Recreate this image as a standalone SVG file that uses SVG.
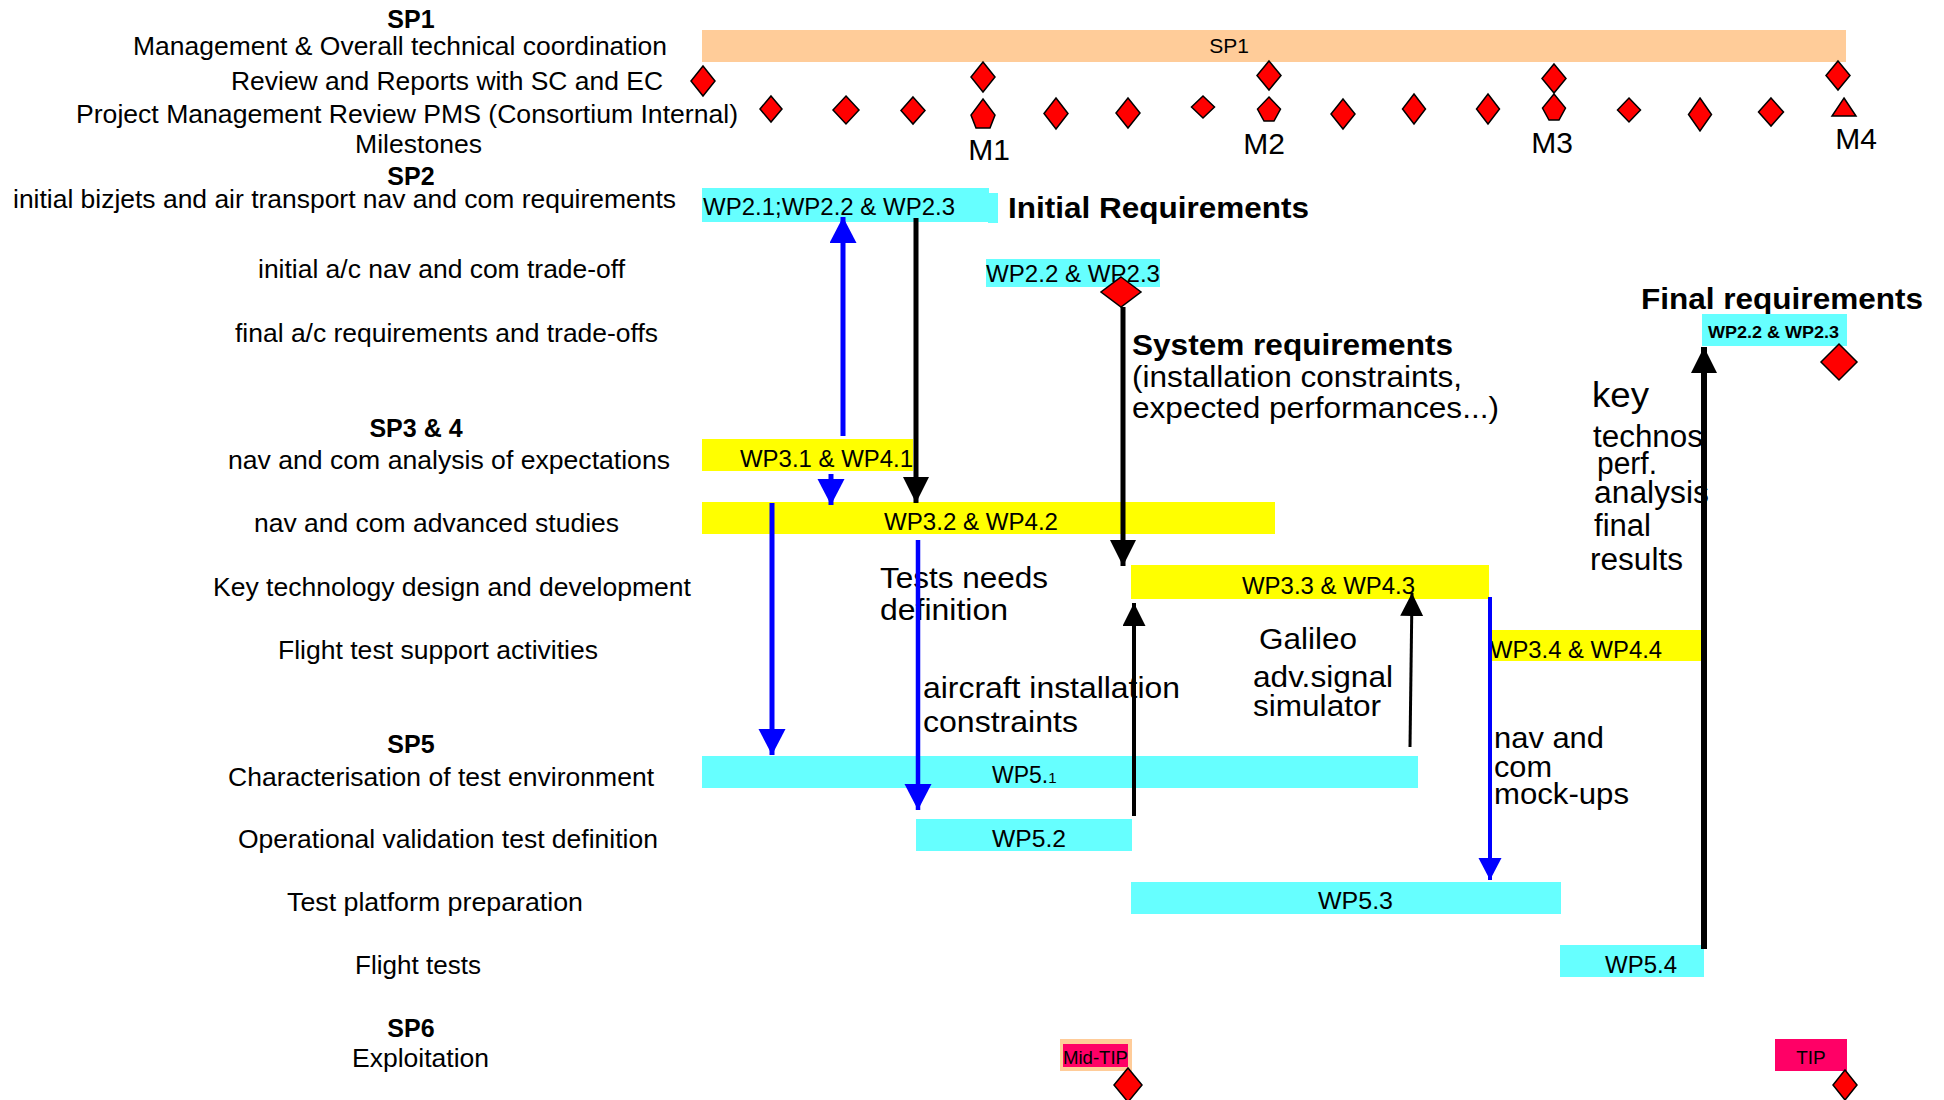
<svg xmlns="http://www.w3.org/2000/svg" width="1944" height="1100" viewBox="0 0 1944 1100">
<style>
text{font-family:"Liberation Sans",Arial,sans-serif;fill:#000}
.lbl{font-size:26px}
.hd{font-size:25px;font-weight:bold}
.bt{font-size:23px}
.ann{font-size:30px}
.annb{font-size:30px;font-weight:bold}
.ms{font-size:30px}
.cy{fill:#66FFFF}
.ye{fill:#FFFF00}
.pe{fill:#FFCC99}
.pk{fill:#FF0066}
.dm{fill:#FF0000;stroke:#000;stroke-width:1.5;stroke-linejoin:miter}
.bl{stroke:#0000FF;fill:none}
.bk{stroke:#000;fill:none}
</style>
<defs>
<marker id="hb" markerUnits="userSpaceOnUse" markerWidth="28" markerHeight="28" refX="26" refY="13.5" orient="auto"><path d="M0,0 L26,13.5 L0,27 z" fill="#0000FF"/></marker>
<marker id="hbs" markerUnits="userSpaceOnUse" markerWidth="24" markerHeight="24" refX="22" refY="11.5" orient="auto"><path d="M0,0 L22,11.5 L0,23 z" fill="#0000FF"/></marker>
<marker id="hk" markerUnits="userSpaceOnUse" markerWidth="28" markerHeight="28" refX="26" refY="13" orient="auto"><path d="M0,0 L26,13 L0,26 z" fill="#000"/></marker>
<marker id="hks" markerUnits="userSpaceOnUse" markerWidth="26" markerHeight="26" refX="23" refY="11.5" orient="auto"><path d="M0,0 L23,11.5 L0,23 z" fill="#000"/></marker>
</defs>
<rect width="1944" height="1100" fill="#fff"/>

<g id="left-labels">
<text class="hd" x="411" y="28" text-anchor="middle">SP1</text>
<text class="lbl" x="133" y="55" textLength="534" lengthAdjust="spacingAndGlyphs">Management &amp; Overall technical coordination</text>
<text class="lbl" x="231" y="90" textLength="432" lengthAdjust="spacingAndGlyphs">Review and Reports with SC and EC</text>
<text class="lbl" x="76" y="123" textLength="662" lengthAdjust="spacingAndGlyphs">Project Management Review PMS (Consortium Internal)</text>
<text class="lbl" x="355" y="153" textLength="127" lengthAdjust="spacingAndGlyphs">Milestones</text>
<text class="hd" x="411" y="185" text-anchor="middle">SP2</text>
<text class="lbl" x="13" y="208" textLength="663" lengthAdjust="spacingAndGlyphs">initial bizjets and air transport nav and com requirements</text>
<text class="lbl" x="258" y="278" textLength="367" lengthAdjust="spacingAndGlyphs">initial a/c nav and com trade-off</text>
<text class="lbl" x="235" y="342" textLength="423" lengthAdjust="spacingAndGlyphs">final a/c requirements and trade-offs</text>
<text class="hd" x="416" y="437" text-anchor="middle">SP3 &amp; 4</text>
<text class="lbl" x="228" y="469" textLength="442" lengthAdjust="spacingAndGlyphs">nav and com analysis of expectations</text>
<text class="lbl" x="254" y="532" textLength="365" lengthAdjust="spacingAndGlyphs">nav and com advanced studies</text>
<text class="lbl" x="213" y="596" textLength="478" lengthAdjust="spacingAndGlyphs">Key technology design and development</text>
<text class="lbl" x="278" y="659" textLength="320" lengthAdjust="spacingAndGlyphs">Flight test support activities</text>
<text class="hd" x="411" y="753" text-anchor="middle">SP5</text>
<text class="lbl" x="228" y="786" textLength="426" lengthAdjust="spacingAndGlyphs">Characterisation of test environment</text>
<text class="lbl" x="238" y="848" textLength="420" lengthAdjust="spacingAndGlyphs">Operational validation test definition</text>
<text class="lbl" x="287" y="911" textLength="296" lengthAdjust="spacingAndGlyphs">Test platform preparation</text>
<text class="lbl" x="355" y="974" textLength="126" lengthAdjust="spacingAndGlyphs">Flight tests</text>
<text class="hd" x="411" y="1037" text-anchor="middle">SP6</text>
<text class="lbl" x="352" y="1067" textLength="137" lengthAdjust="spacingAndGlyphs">Exploitation</text>
</g>

<g id="sp1-bar">
<rect class="pe" x="702" y="30" width="1144" height="32"/>
<text x="1229" y="53" text-anchor="middle" style="font-size:21px">SP1</text>
</g>

<g id="review-milestones">
<polygon class="dm" points="703,66 715,81 703,96 691,81"/>
<polygon class="dm" points="983,62 995,77 983,92 971,77"/>
<polygon class="dm" points="1269,61 1281,75.5 1269,90 1257,75.5"/>
<polygon class="dm" points="1554,64 1566,78.5 1554,93 1542,78.5"/>
<polygon class="dm" points="1838,61 1850,75.5 1838,90 1826,75.5"/>
</g>

<g id="pms-milestones">
<polygon class="dm" points="771,96 782,109 771,122 760,109"/>
<polygon class="dm" points="846,96 859,110 846,124 833,110"/>
<polygon class="dm" points="913,97 925,110.5 913,124 901,110.5"/>
<polygon class="dm" points="983,99 995,115 990,128 976,128 971,115"/>
<polygon class="dm" points="1056,98 1068,113.5 1056,129 1044,113.5"/>
<polygon class="dm" points="1128,98 1140,113 1128,128 1116,113"/>
<polygon class="dm" points="1203,96 1214.5,107 1203,118 1191.5,107"/>
<polygon class="dm" points="1269,97 1280.5,109 1274,121 1264,121 1257.5,109"/>
<polygon class="dm" points="1343,99 1355,114 1343,129 1331,114"/>
<polygon class="dm" points="1414,94 1425.5,109 1414,124 1402.5,109"/>
<polygon class="dm" points="1488,94 1499.5,109 1488,124 1476.5,109"/>
<polygon class="dm" points="1554,94 1565.5,108 1559,120 1549,120 1542.5,108"/>
<polygon class="dm" points="1629,98 1640.5,110 1629,122 1617.5,110"/>
<polygon class="dm" points="1700,98 1711.5,114.5 1700,131 1688.5,114.5"/>
<polygon class="dm" points="1771,98 1783.5,112 1771,126 1758.5,112"/>
<polygon class="dm" points="1844,98 1856,116 1832,116"/>
</g>

<g id="milestone-labels">
<text class="ms" x="989" y="160" text-anchor="middle">M1</text>
<text class="ms" x="1264" y="154" text-anchor="middle">M2</text>
<text class="ms" x="1552" y="153" text-anchor="middle">M3</text>
<text class="ms" x="1856" y="149" text-anchor="middle">M4</text>
</g>

<g id="wp2-1">
<rect class="cy" x="702" y="188" width="287" height="34"/>
<rect class="cy" x="988" y="193" width="10" height="30"/>
<text class="bt" x="703" y="215" textLength="252" lengthAdjust="spacingAndGlyphs">WP2.1;WP2.2 &amp; WP2.3</text>
</g>
<g id="initial-requirements">
<text class="annb" x="1008" y="218" textLength="301" lengthAdjust="spacingAndGlyphs">Initial Requirements</text>
</g>

<g id="wp2-2">
<rect class="cy" x="986" y="259" width="174" height="28"/>
<text class="bt" x="986" y="282" textLength="174" lengthAdjust="spacingAndGlyphs">WP2.2 &amp; WP2.3</text>
<polygon class="dm" points="1121,277 1141,292 1121,307 1101,292"/>
</g>

<g id="system-requirements">
<text class="annb" x="1132" y="355" textLength="321" lengthAdjust="spacingAndGlyphs">System requirements</text>
<text class="ann" x="1132" y="387" textLength="330" lengthAdjust="spacingAndGlyphs">(installation constraints,</text>
<text class="ann" x="1132" y="418" textLength="367" lengthAdjust="spacingAndGlyphs">expected performances...)</text>
</g>

<g id="final-requirements">
<text class="annb" x="1641" y="309" textLength="282" lengthAdjust="spacingAndGlyphs">Final requirements</text>
<rect class="cy" x="1702" y="314" width="145" height="32"/>
<text x="1708" y="338" textLength="131" lengthAdjust="spacingAndGlyphs" style="font-size:17px;font-weight:bold">WP2.2 &amp; WP2.3</text>
<polygon class="dm" points="1839,344 1857,362 1839,380 1821,362"/>
</g>

<g id="key-technos">
<text x="1592" y="407" style="font-size:35px" textLength="57" lengthAdjust="spacingAndGlyphs">key</text>
<text x="1593" y="447" style="font-size:31px" textLength="110" lengthAdjust="spacingAndGlyphs">technos</text>
<text x="1597" y="474" style="font-size:31px" textLength="60" lengthAdjust="spacingAndGlyphs">perf.</text>
<text x="1594" y="503" style="font-size:31px" textLength="115" lengthAdjust="spacingAndGlyphs">analysis</text>
<text x="1594" y="536" style="font-size:31px" textLength="57" lengthAdjust="spacingAndGlyphs">final</text>
<text x="1590" y="570" style="font-size:31px" textLength="93" lengthAdjust="spacingAndGlyphs">results</text>
</g>

<g id="wp3-1">
<rect class="ye" x="702" y="439" width="211" height="32"/>
<text class="bt" x="740" y="467" textLength="173" lengthAdjust="spacingAndGlyphs">WP3.1 &amp; WP4.1</text>
</g>
<g id="wp3-2">
<rect class="ye" x="702" y="502" width="573" height="32"/>
<text class="bt" x="884" y="530" textLength="174" lengthAdjust="spacingAndGlyphs">WP3.2 &amp; WP4.2</text>
</g>
<g id="wp3-3">
<rect class="ye" x="1131" y="565" width="358" height="34"/>
<text class="bt" x="1242" y="594" textLength="173" lengthAdjust="spacingAndGlyphs">WP3.3 &amp; WP4.3</text>
</g>
<g id="wp3-4">
<rect class="ye" x="1492" y="630" width="209" height="31"/>
<text class="bt" x="1490" y="658" textLength="172" lengthAdjust="spacingAndGlyphs">WP3.4 &amp; WP4.4</text>
</g>

<g id="wp5-1">
<rect class="cy" x="702" y="756" width="716" height="32"/>
<text class="bt" x="992" y="783">WP5.<tspan style="font-size:15px">1</tspan></text>
</g>
<g id="wp5-2">
<rect class="cy" x="916" y="819" width="216" height="32"/>
<text class="bt" x="992" y="847" textLength="74" lengthAdjust="spacingAndGlyphs">WP5.2</text>
</g>
<g id="wp5-3">
<rect class="cy" x="1131" y="882" width="430" height="32"/>
<text class="bt" x="1318" y="909" textLength="75" lengthAdjust="spacingAndGlyphs">WP5.3</text>
</g>
<g id="wp5-4">
<rect class="cy" x="1560" y="945" width="144" height="32"/>
<text class="bt" x="1605" y="973" textLength="72" lengthAdjust="spacingAndGlyphs">WP5.4</text>
</g>

<g id="mid-tip">
<rect class="pe" x="1060" y="1039" width="72" height="32"/>
<rect class="pk" x="1063" y="1044" width="65" height="23"/>
<text x="1063" y="1064" style="font-size:19px" textLength="65" lengthAdjust="spacingAndGlyphs">Mid-TIP</text>
<polygon class="dm" points="1128,1068 1142,1085 1128,1102 1114,1085"/>
</g>
<g id="tip">
<rect class="pk" x="1775" y="1039" width="72" height="32"/>
<text x="1811" y="1064" text-anchor="middle" style="font-size:19px">TIP</text>
<polygon class="dm" points="1845,1070 1857,1085 1845,1100 1833,1085"/>
</g>

<g id="annotations">
<text class="ann" x="880" y="588" textLength="168" lengthAdjust="spacingAndGlyphs">Tests needs</text>
<text class="ann" x="880" y="620" textLength="128" lengthAdjust="spacingAndGlyphs">definition</text>
<text class="ann" x="923" y="698" textLength="257" lengthAdjust="spacingAndGlyphs">aircraft installation</text>
<text class="ann" x="923" y="732" textLength="155" lengthAdjust="spacingAndGlyphs">constraints</text>
<text class="ann" x="1259" y="649" textLength="98" lengthAdjust="spacingAndGlyphs">Galileo</text>
<text class="ann" x="1253" y="687" textLength="140" lengthAdjust="spacingAndGlyphs">adv.signal</text>
<text class="ann" x="1253" y="716" textLength="128" lengthAdjust="spacingAndGlyphs">simulator</text>
<text class="ann" x="1494" y="748" textLength="110" lengthAdjust="spacingAndGlyphs">nav and</text>
<text class="ann" x="1494" y="777" textLength="58" lengthAdjust="spacingAndGlyphs">com</text>
<text class="ann" x="1494" y="804" textLength="135" lengthAdjust="spacingAndGlyphs">mock-ups</text>
</g>

<g id="connectors">
<line class="bl" x1="843" y1="436" x2="843" y2="217" stroke-width="5" marker-end="url(#hb)"/>
<line class="bk" x1="916" y1="218" x2="916" y2="503" stroke-width="5" marker-end="url(#hk)"/>
<line class="bl" x1="831" y1="474" x2="831" y2="505" stroke-width="5" marker-end="url(#hb)"/>
<line class="bk" x1="1123" y1="307" x2="1123" y2="566" stroke-width="5" marker-end="url(#hk)"/>
<line class="bl" x1="772" y1="503" x2="772" y2="755" stroke-width="5" marker-end="url(#hb)"/>
<line class="bl" x1="918" y1="540" x2="918" y2="810" stroke-width="4.5" marker-end="url(#hb)"/>
<line class="bk" x1="1134" y1="816" x2="1134" y2="603" stroke-width="4" marker-end="url(#hks)"/>
<line class="bk" x1="1410" y1="747" x2="1412" y2="593" stroke-width="3" marker-end="url(#hks)"/>
<line class="bl" x1="1490" y1="597" x2="1490" y2="880" stroke-width="4" marker-end="url(#hbs)"/>
<line class="bk" x1="1704" y1="949" x2="1704" y2="347" stroke-width="6" marker-end="url(#hk)"/>
</g>
</svg>
